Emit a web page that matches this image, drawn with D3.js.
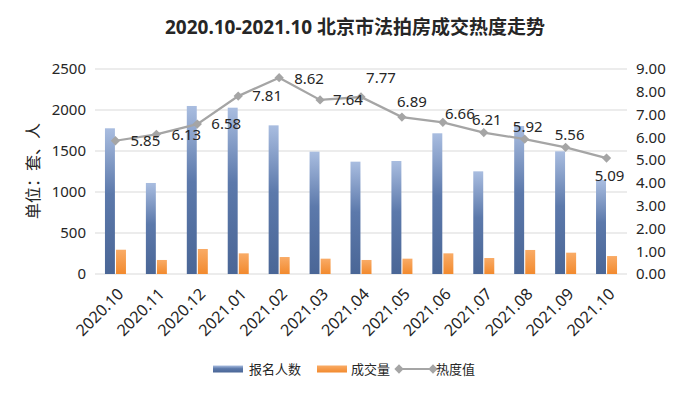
<!DOCTYPE html>
<html>
<head>
<meta charset="utf-8">
<script src="https://cdn.jsdelivr.net/npm/d3@7"></script>
<style>
  body { margin: 0; background: #fff; }
  text { font-family: "Noto Sans", "Noto Sans CJK SC", sans-serif; fill: #262626; }
</style>
</head>
<body>
<svg id="chart" width="700" height="394"></svg>
<script>
// dati
const mesi = ["2020.10", "2020.11", "2020.12", "2021.01", "2021.02", "2021.03", "2021.04",
              "2021.05", "2021.06", "2021.07", "2021.08", "2021.09", "2021.10"];
const iscritti = [1777, 1110, 2049, 2028, 1813, 1492, 1370, 1378, 1716, 1252, 1805, 1496, 1146];
const scambi = [296, 171, 305, 252, 207, 187, 171, 187, 252, 195, 293, 260, 219];
const calore = [5.85, 6.13, 6.58, 7.81, 8.62, 7.64, 7.77, 6.89, 6.66, 6.21, 5.92, 5.56, 5.09];
const tickSinistra = [0, 500, 1000, 1500, 2000, 2500];
const tickDestra = [0, 1, 2, 3, 4, 5, 6, 7, 8, 9];
const serie = ["报名人数", "成交量"];

// spostamento etichette rispetto al punto [dx, dy, anchor]
const posEtichette = [
    [15, 0, "start"], [15, 0, "start"], [14, 0, "start"], [14, 0, "start"], [15, 1, "start"],
    [13, 0, "start"], [20, -19, "middle"], [10, -15, "middle"], [17, -9, "middle"],
    [3, -13, "middle"], [3, -12, "middle"], [4, -13, "middle"], [3, 18, "middle"]
];

const svg = d3.select("#chart");
const areaSx = 95, areaDx = 627, areaTop = 69, areaBase = 274;

// gradienti
const defs = svg.append("defs");
const gBlu = defs.append("linearGradient").attr("id", "gBlu")
    .attr("x1", 0).attr("y1", 0).attr("x2", 0).attr("y2", 1);
gBlu.append("stop").attr("offset", "0%").attr("stop-color", "#a9bde0");
gBlu.append("stop").attr("offset", "45%").attr("stop-color", "#5c79ab");
gBlu.append("stop").attr("offset", "100%").attr("stop-color", "#4a6696");
const gArancio = defs.append("linearGradient").attr("id", "gArancio")
    .attr("x1", 0).attr("y1", 0).attr("x2", 0).attr("y2", 1);
gArancio.append("stop").attr("offset", "0%").attr("stop-color", "#f9ab66");
gArancio.append("stop").attr("offset", "100%").attr("stop-color", "#f28a2e");

// scale
const x = d3.scaleBand().domain(mesi).range([areaSx, areaDx]);
const x1 = d3.scaleBand().domain(serie)
    .range([x.bandwidth() / 2 - 10.5, x.bandwidth() / 2 + 10.5])
    .paddingInner(0.1);
const y = d3.scaleLinear().domain([0, 2500]).range([areaBase, areaTop]);
const y2 = d3.scaleLinear().domain([0, 9]).range([areaBase, areaTop]);

// griglia
svg.append("g")
    .selectAll("line")
    .data(tickSinistra)
    .enter()
    .append("line")
    .attr("x1", areaSx).attr("x2", areaDx)
    .attr("y1", d => y(d)).attr("y2", d => y(d))
    .attr("stroke", "#d9d9d9").attr("stroke-width", 1);

// assi
const asseSx = svg.append("g")
    .attr("transform", "translate(" + (areaSx - 9) + ",0)")
    .call(d3.axisLeft(y).tickValues(tickSinistra).tickSize(0).tickPadding(0)
        .tickFormat(d3.format("d")));
asseSx.select(".domain").remove();
asseSx.selectAll("text").style("font-size", "15px").attr("fill", "#262626");

const asseDx = svg.append("g")
    .attr("transform", "translate(" + (areaDx + 9) + ",0)")
    .call(d3.axisRight(y2).tickValues(tickDestra).tickSize(0).tickPadding(0)
        .tickFormat(d3.format(".2f")));
asseDx.select(".domain").remove();
asseDx.selectAll("text").style("font-size", "15px").attr("fill", "#262626");

const assex = svg.append("g")
    .attr("transform", "translate(0," + areaBase + ")")
    .call(d3.axisBottom(x).tickSize(0));
assex.select(".domain").remove();
assex.selectAll("text")
    .style("font-size", "16px")
    .attr("fill", "#262626")
    .attr("text-anchor", "end")
    .attr("dy", 0)
    .attr("transform", "translate(7,19) rotate(-45)");

// barre
const gruppi = svg.append("g")
    .selectAll("g")
    .data(mesi)
    .enter()
    .append("g")
    .attr("transform", d => "translate(" + x(d) + ",0)");

gruppi.append("rect")
    .attr("x", x1("报名人数"))
    .attr("y", (d, i) => y(iscritti[i]))
    .attr("width", x1.bandwidth())
    .attr("height", (d, i) => areaBase - y(iscritti[i]))
    .attr("fill", "url(#gBlu)");

gruppi.append("rect")
    .attr("x", x1("成交量"))
    .attr("y", (d, i) => y(scambi[i]))
    .attr("width", x1.bandwidth())
    .attr("height", (d, i) => areaBase - y(scambi[i]))
    .attr("fill", "url(#gArancio)");

// linea calore
const cx = (d, i) => x(mesi[i]) + x.bandwidth() / 2;
const linea = d3.line().x(cx).y(d => y2(d));
svg.append("path")
    .datum(calore)
    .attr("d", linea)
    .attr("fill", "none")
    .attr("stroke", "#a5a5a5")
    .attr("stroke-width", 2.25);

const rombo = d3.symbol().type(d3.symbolDiamond2).size(55);
svg.append("g")
    .selectAll("path")
    .data(calore)
    .enter()
    .append("path")
    .attr("d", rombo)
    .attr("transform", (d, i) => "translate(" + cx(d, i) + "," + y2(d) + ")")
    .attr("fill", "#a5a5a5");

svg.append("g")
    .selectAll("text")
    .data(calore)
    .enter()
    .append("text")
    .attr("x", (d, i) => cx(d, i) + posEtichette[i][0])
    .attr("y", (d, i) => y2(d) + posEtichette[i][1])
    .attr("dy", "0.35em")
    .attr("text-anchor", (d, i) => posEtichette[i][2])
    .style("font-size", "15px")
    .text(d => d.toFixed(2));

// titolo
svg.append("text")
    .attr("x", 355)
    .attr("y", 27)
    .attr("dy", "0.35em")
    .attr("text-anchor", "middle")
    .style("font-size", "19px")
    .style("font-weight", "bold")
    .attr("fill", "#111")
    .text("2020.10-2021.10 北京市法拍房成交热度走势");

// etichetta asse
svg.append("text")
    .attr("transform", "translate(33,171) rotate(-90)")
    .attr("dy", "0.35em")
    .attr("text-anchor", "middle")
    .style("font-size", "16px")
    .text("单位：套、人");

// legenda
const legenda = svg.append("g").attr("transform", "translate(0,369)");
legenda.append("rect").attr("x", 213).attr("y", -3.5).attr("width", 30).attr("height", 7).attr("fill", "url(#gBlu)");
legenda.append("text").attr("x", 249).attr("dy", "0.35em").style("font-size", "13px").text("报名人数");
legenda.append("rect").attr("x", 317).attr("y", -3.5).attr("width", 30).attr("height", 7).attr("fill", "url(#gArancio)");
legenda.append("text").attr("x", 351).attr("dy", "0.35em").style("font-size", "13px").text("成交量");
legenda.append("line").attr("x1", 399).attr("x2", 433).attr("y1", 0).attr("y2", 0)
    .attr("stroke", "#a5a5a5").attr("stroke-width", 2);
legenda.append("path").attr("d", rombo).attr("transform", "translate(399,0)").attr("fill", "#a5a5a5");
legenda.append("path").attr("d", rombo).attr("transform", "translate(433,0)").attr("fill", "#a5a5a5");
legenda.append("text").attr("x", 436).attr("dy", "0.35em").style("font-size", "13px").text("热度值");
</script>
</body>
</html>
